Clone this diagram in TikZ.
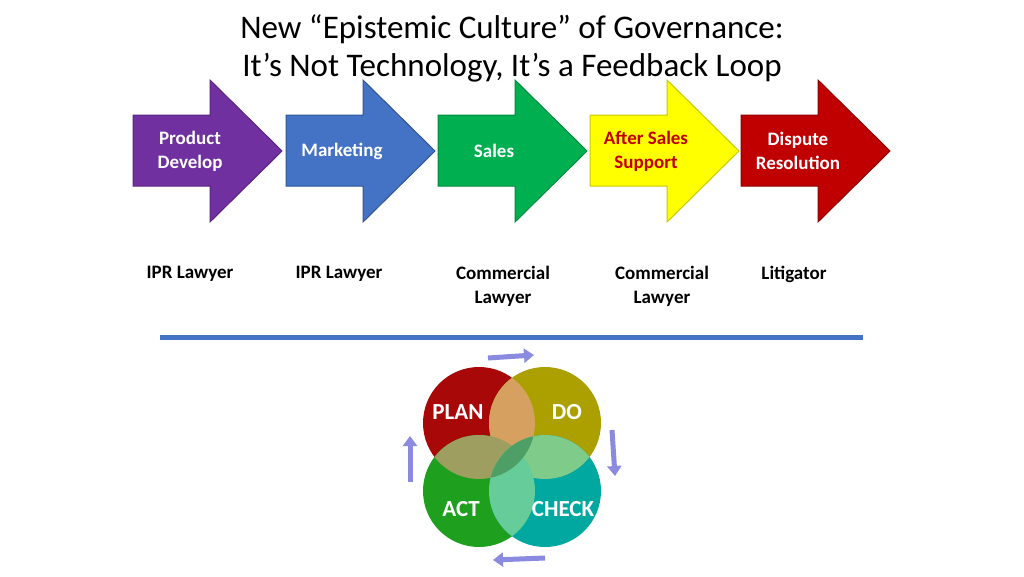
\documentclass[tikz,border=0pt]{standalone}
\usepackage{fontspec}
\setmainfont{Carlito}
\usetikzlibrary{arrows.meta}
\definecolor{cpur}{HTML}{7030A0}\definecolor{cpurd}{HTML}{5A2480}
\definecolor{cblu}{HTML}{4472C4}\definecolor{cblud}{HTML}{2F5597}
\definecolor{cgrn}{HTML}{00B050}\definecolor{cgrnd}{HTML}{008A3E}
\definecolor{cyel}{HTML}{FFFF00}\definecolor{cyeld}{HTML}{C8C800}
\definecolor{cred}{HTML}{C00000}\definecolor{credd}{HTML}{900000}
\definecolor{cline}{HTML}{4472C4}
\definecolor{pplan}{HTML}{A80808}\definecolor{pdo}{HTML}{ABA000}
\definecolor{pact}{HTML}{1EA01E}\definecolor{pcheck}{HTML}{00A8A0}
\definecolor{opd}{HTML}{D6A060}\definecolor{opa}{HTML}{9E9E60}
\definecolor{odc}{HTML}{7FCC8A}\definecolor{oac}{HTML}{66CC99}
\definecolor{omid}{HTML}{4E9F66}
\definecolor{carr}{HTML}{8A8AE0}
\begin{document}
\begin{tikzpicture}[x=1pt,y=-1pt,
  lab/.style={font=\bfseries\fontsize{19}{24}\selectfont,align=center},
  atext/.style={font=\bfseries\fontsize{19}{24}\selectfont,align=center,text=white},
  cyc/.style={line width=5pt,draw=carr,-{Triangle[length=10pt,width=14pt]}},
  ptext/.style={font=\bfseries\fontsize{23}{26}\selectfont,text=white}]
\useasboundingbox (0,0) rectangle (1024,576);
\node[font=\fontsize{33}{38}\selectfont,align=center] (title) at (512,48) {New “Epistemic Culture” of Governance:\\It’s Not Technology, It’s a Feedback Loop};
\newcommand{\blockarrow}[3]{%
  \filldraw[fill=#2,draw=#3,line width=1pt] (#1,115) -- (#1+77,115) -- (#1+77,80) -- (#1+149,151) -- (#1+77,222) -- (#1+77,186) -- (#1,186) -- cycle;}
\blockarrow{133}{cpur}{cpurd}
\blockarrow{286}{cblu}{cblud}
\blockarrow{438}{cgrn}{cgrnd}
\blockarrow{590}{cyel}{cyeld}
\blockarrow{741}{cred}{credd}
\node[atext] (a1) at (190,151) {Product\\Develop};
\node[atext] (a2) at (342,151) {Marketing};
\node[atext] (a3) at (494,151) {Sales};
\node[atext,text=cred] (a4) at (646,151) {After Sales\\Support};
\node[atext] (a5) at (798,151) {Dispute\\Resolution};
\node[lab,anchor=north] (l1) at (190,263) {IPR Lawyer};
\node[lab,anchor=north] (l2) at (339,263) {IPR Lawyer};
\node[lab,anchor=north] (l3) at (503,263) {Commercial\\Lawyer};
\node[lab,anchor=north] (l4) at (662,263) {Commercial\\Lawyer};
\node[lab,anchor=north] (l5) at (794,263) {Litigator};
\draw[line width=5pt,draw=cline] (160,337) -- (863,337);
\fill[pplan] (479,423) circle (56);
\fill[pdo] (545,423) circle (56);
\fill[pact] (479,491) circle (56);
\fill[pcheck] (545,491) circle (56);
\begin{scope}\clip (479,423) circle (56); \fill[opd] (545,423) circle (56); \fill[opa] (479,491) circle (56);\end{scope}
\begin{scope}\clip (545,491) circle (56); \fill[odc] (545,423) circle (56); \fill[oac] (479,491) circle (56);\end{scope}
\begin{scope}\clip (479,423) circle (56); \clip (545,491) circle (56); \fill[omid] (0,0) rectangle (1024,576);\end{scope}
\node[ptext] (plan) at (458,412) {PLAN};
\node[ptext] (do) at (567,412) {DO};
\node[ptext] (act) at (461,509) {ACT};
\node[ptext] (check) at (563,509) {CHECK};
\draw[cyc] (488,358) -- (534,355);
\draw[cyc] (612,430) -- (615,476);
\draw[cyc] (545,558) -- (493,560);
\draw[cyc] (410,482) -- (410,436);
\end{tikzpicture}
\end{document}
